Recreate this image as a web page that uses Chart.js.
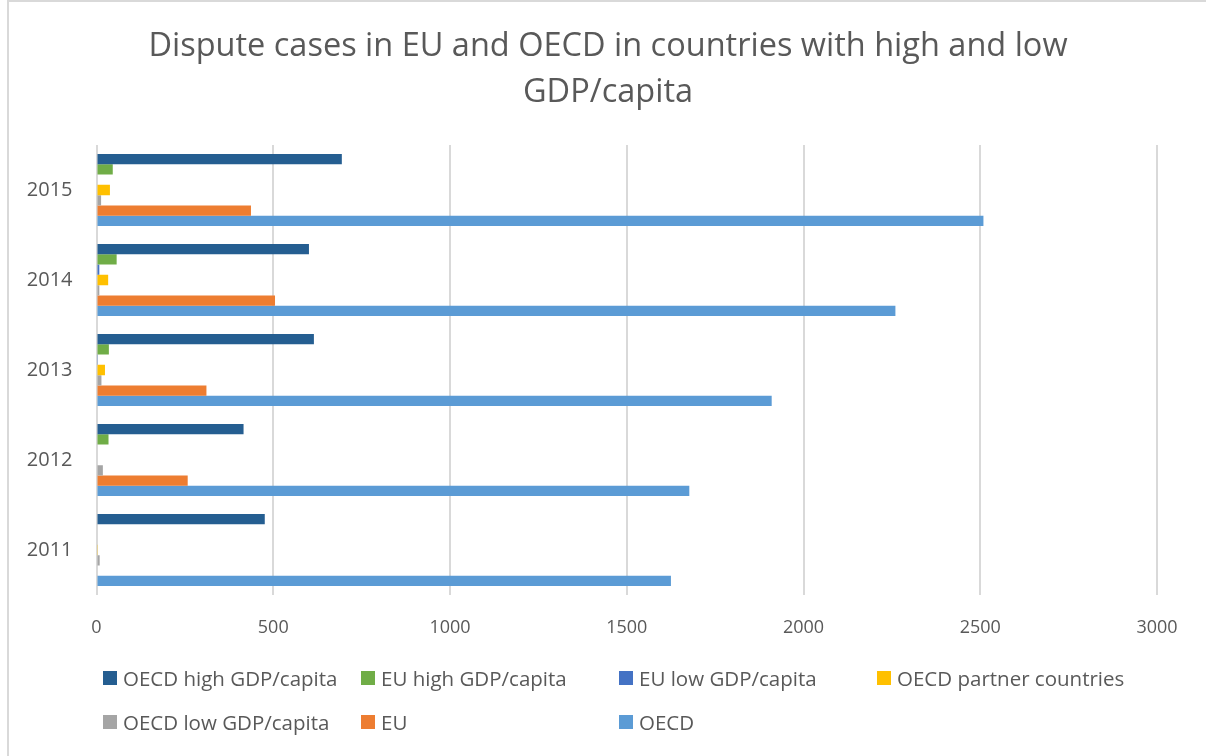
<!DOCTYPE html>
<html>
<head>
<meta charset="utf-8">
<script src="https://cdn.jsdelivr.net/npm/chart.js@4"></script>
<style>
  body { margin: 0; background: #fff; }
  #wrap { position: relative; width: 1206px; height: 756px; overflow: hidden; }
  #frame { position: absolute; left: 7px; top: 0; width: 1220px; height: 780px; border: 2px solid #d9d9d9; box-sizing: border-box; }
  #myChart { position: absolute; left: 0; top: 0; }
  #legend { position: absolute; left: 103px; top: 666px; display: grid; grid-template-columns: repeat(4, 258px); row-gap: 20px;
            font-family: "Open Sans", sans-serif; font-size: 20.5px; color: #595959; }
  #legend div { display: flex; align-items: center; height: 24px; white-space: nowrap; }
  #legend span { display: inline-block; width: 14px; height: 14px; margin-right: 6px; }
</style>
</head>
<body>
<div id="wrap">
  <div id="frame"></div>
  <canvas id="myChart" width="1206" height="756"></canvas>
  <div id="legend"></div>
</div>
<script>
const years = ["2015", "2014", "2013", "2012", "2011"];
const seriesNames = [
  "OECD high GDP/capita", "EU high GDP/capita", "EU low GDP/capita",
  "OECD partner countries", "OECD low GDP/capita", "EU", "OECD"
];
const oecdHigh = [694, 601, 615, 416, 476];
const euHigh = [46, 57, 35, 34, 0];
const euLow = [0, 8, 2, 0, 0];
const oecdPartner = [38, 33, 24, 0, 2];
const oecdLow = [13, 8, 14, 18, 9];
const eu = [437, 505, 311, 258, 0];
const oecd = [2509, 2260, 1910, 1677, 1625];
const xTicks = [0, 500, 1000, 1500, 2000, 2500, 3000];

const colors = ["#255e91", "#70ad47", "#4472c4", "#ffc000", "#a5a5a5", "#ed7d31", "#5b9bd5"];
const values = [oecdHigh, euHigh, euLow, oecdPartner, oecdLow, eu, oecd];

const textColor = "#595959";

new Chart(document.getElementById("myChart"), {
  type: "bar",
  data: {
    labels: years,
    datasets: seriesNames.map((name, i) => ({
      label: name,
      data: values[i],
      backgroundColor: colors[i],
      borderWidth: 0,
      categoryPercentage: 0.8,
      barPercentage: 1.0,
    }))
  },
  options: {
    indexAxis: "y",
    responsive: false,
    animation: false,
    layout: { padding: { left: 15, right: 5, top: 0, bottom: 111 } },
    plugins: {
      legend: { display: false },
      tooltip: { enabled: false },
      title: {
        display: true,
        text: ["Dispute cases in EU and OECD in countries with high and low", "GDP/capita"],
        color: textColor,
        font: { family: "Open Sans", size: 32.5, weight: "normal", lineHeight: 1.4 },
        padding: { top: 24, bottom: 30 },
      }
    },
    scales: {
      x: {
        min: 0,
        max: 3000,
        afterBuildTicks: scale => { scale.ticks = xTicks.map(v => ({ value: v })); },
        afterFit: scale => { scale.height = 50; },
        grid: { color: "#d9d9d9", lineWidth: 2, drawTicks: false },
        border: { display: false },
        ticks: {
          color: textColor,
          padding: 22,
          font: { family: "Open Sans", size: 18 },
          callback: v => String(v),
        }
      },
      y: {
        afterFit: scale => { scale.width = 81.5; },
        grid: { display: false, drawTicks: false },
        border: { display: false },
        ticks: {
          color: textColor,
          padding: 24,
          font: { family: "Open Sans", size: 20 },
        }
      },
      spacer: {
        type: "category",
        position: "right",
        axis: "y",
        afterFit: scale => { scale.width = 44; },
        grid: { display: false, drawTicks: false },
        border: { display: false },
        ticks: { display: false },
      }
    }
  }
});

const legendEl = document.getElementById("legend");
seriesNames.forEach((name, i) => {
  const item = document.createElement("div");
  const box = document.createElement("span");
  box.style.background = colors[i];
  item.appendChild(box);
  item.appendChild(document.createTextNode(name));
  legendEl.appendChild(item);
});
</script>
</body>
</html>
